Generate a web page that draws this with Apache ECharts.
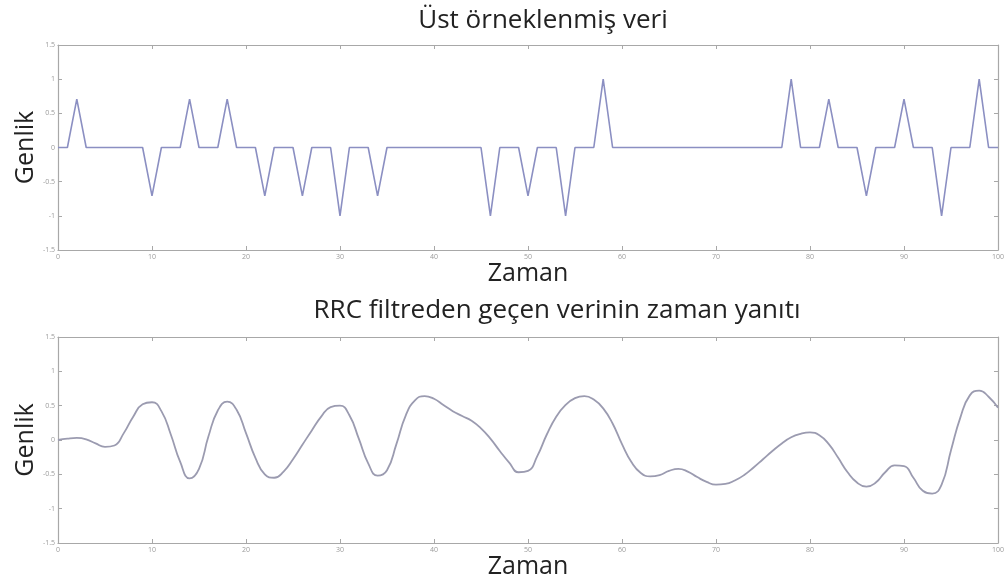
<!DOCTYPE html>
<html>
<head>
<meta charset="utf-8">
<title>Üst örneklenmiş veri / RRC filtre yanıtı</title>
<script src="https://cdn.jsdelivr.net/npm/echarts@6/dist/echarts.min.js"></script>
<style>
  html, body { margin: 0; padding: 0; background: #ffffff; }
  #chart { width: 1007px; height: 584px; }
</style>
</head>
<body>
<div id="chart"></div>
<script>
// Sample axis: 0..100
const xTicks = [0, 10, 20, 30, 40, 50, 60, 70, 80, 90, 100];
const yTicks = [-1.5, -1, -0.5, 0, 0.5, 1, 1.5];

// Upsampled 8-PSK (real part) symbols, one sample per time step
const upsampled = [
  0, 0, 0.707, 0, 0, 0, 0, 0, 0, 0,
  -0.707, 0, 0, 0, 0.707, 0, 0, 0, 0.707, 0,
  0, 0, -0.707, 0, 0, 0, -0.707, 0, 0, 0,
  -1, 0, 0, 0, -0.707, 0, 0, 0, 0, 0,
  0, 0, 0, 0, 0, 0, -1, 0, 0, 0,
  -0.707, 0, 0, 0, -1, 0, 0, 0, 1, 0,
  0, 0, 0, 0, 0, 0, 0, 0, 0, 0,
  0, 0, 0, 0, 0, 0, 0, 0, 1, 0,
  0, 0, 0.707, 0, 0, 0, -0.707, 0, 0, 0,
  0.707, 0, 0, 0, -1, 0, 0, 0, 1, 0,
  0
];

// Output of the root-raised-cosine filter
const rrcResponse = [
  0.00, 0.02, 0.03, 0.01, -0.05, -0.10, -0.08, 0.10, 0.34, 0.52,
  0.55, 0.42, 0.08, -0.32, -0.56, -0.42, 0.05, 0.43, 0.56, 0.44,
  0.10, -0.26, -0.50, -0.55, -0.46, -0.28, -0.07, 0.14, 0.34, 0.48,
  0.50, 0.36, 0.02, -0.34, -0.52, -0.44, -0.06, 0.36, 0.58, 0.64,
  0.60, 0.51, 0.42, 0.35, 0.28, 0.17, 0.02, -0.16, -0.33, -0.47,
  -0.45, -0.23, 0.08, 0.34, 0.51, 0.61, 0.64, 0.59, 0.46, 0.24,
  -0.06, -0.32, -0.48, -0.53, -0.51, -0.45, -0.42, -0.46, -0.54, -0.61,
  -0.65, -0.64, -0.59, -0.51, -0.40, -0.28, -0.16, -0.05, 0.04, 0.09,
  0.11, 0.07, -0.06, -0.26, -0.47, -0.62, -0.68, -0.62, -0.47, -0.37,
  -0.38, -0.55, -0.74, -0.78, -0.65, -0.15, 0.33, 0.65, 0.72, 0.63,
  0.47
];

const titleTop = 'Üst örneklenmiş veri';
const titleBottom = 'RRC filtreden geçen verinin zaman yanıtı';
const xName = 'Zaman';
const yName = 'Genlik';

const FONT = '"Open Sans", "Noto Sans", sans-serif';
const axisGray = '#a8a8a8';
const tickText = '#9a9a9a';

function yLabel(v) {
  return String(v);
}

const lineCommon = { show: true, onZero: false, lineStyle: { color: axisGray, width: 1.2 } };
const tickCommon = { show: true, inside: true, length: 4, lineStyle: { color: axisGray } };

function mainX(gridIndex) {
  return {
    type: 'value', gridIndex, position: 'bottom',
    min: xTicks[0], max: xTicks[xTicks.length - 1], interval: 10,
    axisLine: lineCommon, axisTick: tickCommon,
    axisLabel: { show: true, fontSize: 7, color: tickText, margin: 3, fontFamily: FONT },
    splitLine: { show: false },
    name: xName, nameLocation: 'middle', nameGap: 11, nameMoveOverlap: false,
    nameTextStyle: { fontSize: 25, color: '#222', fontFamily: FONT, verticalAlign: 'top' }
  };
}
function frameX(gridIndex) {
  return {
    type: 'value', gridIndex, position: 'top',
    min: xTicks[0], max: xTicks[xTicks.length - 1], interval: 10,
    axisLine: lineCommon, axisTick: tickCommon,
    axisLabel: { show: false }, splitLine: { show: false }
  };
}
function mainY(gridIndex) {
  return {
    type: 'value', gridIndex, position: 'left',
    min: yTicks[0], max: yTicks[yTicks.length - 1], interval: 0.5,
    axisLine: lineCommon, axisTick: tickCommon,
    axisLabel: { show: true, fontSize: 7, color: tickText, margin: 3, fontFamily: FONT, formatter: yLabel },
    splitLine: { show: false },
    name: yName, nameLocation: 'middle', nameRotate: 90, nameGap: 20, nameMoveOverlap: false,
    nameTextStyle: { fontSize: 25, color: '#222', fontFamily: FONT }
  };
}
function frameY(gridIndex) {
  return {
    type: 'value', gridIndex, position: 'right',
    min: yTicks[0], max: yTicks[yTicks.length - 1], interval: 0.5,
    axisLine: lineCommon, axisTick: tickCommon,
    axisLabel: { show: false }, splitLine: { show: false }
  };
}

const chart = echarts.init(document.getElementById('chart'), null, { renderer: 'canvas' });
chart.setOption({
  animation: false,
  backgroundColor: '#ffffff',
  title: [
    { text: titleTop, left: 538, top: 3, textAlign: 'center',
      textStyle: { fontSize: 26, fontWeight: 'normal', color: '#222', fontFamily: FONT } },
    { text: titleBottom, left: 552, top: 293, textAlign: 'center',
      textStyle: { fontSize: 26, fontWeight: 'normal', color: '#222', fontFamily: FONT } }
  ],
  grid: [
    { left: 58, right: 4, top: 45, height: 205 },
    { left: 58, right: 4, top: 337, height: 206 }
  ],
  xAxis: [mainX(0), frameX(0), mainX(1), frameX(1)],
  yAxis: [mainY(0), frameY(0), mainY(1), frameY(1)],
  series: [
    {
      type: 'line', xAxisIndex: 0, yAxisIndex: 0,
      data: upsampled.map((v, i) => [i, v]),
      showSymbol: false, smooth: false,
      lineStyle: { color: '#8b8fc2', width: 1.6 }
    },
    {
      type: 'line', xAxisIndex: 2, yAxisIndex: 2,
      data: rrcResponse.map((v, i) => [i, v]),
      showSymbol: false, smooth: 0.5,
      lineStyle: { color: '#9b9bb0', width: 1.8 }
    }
  ]
});
</script>
</body>
</html>
